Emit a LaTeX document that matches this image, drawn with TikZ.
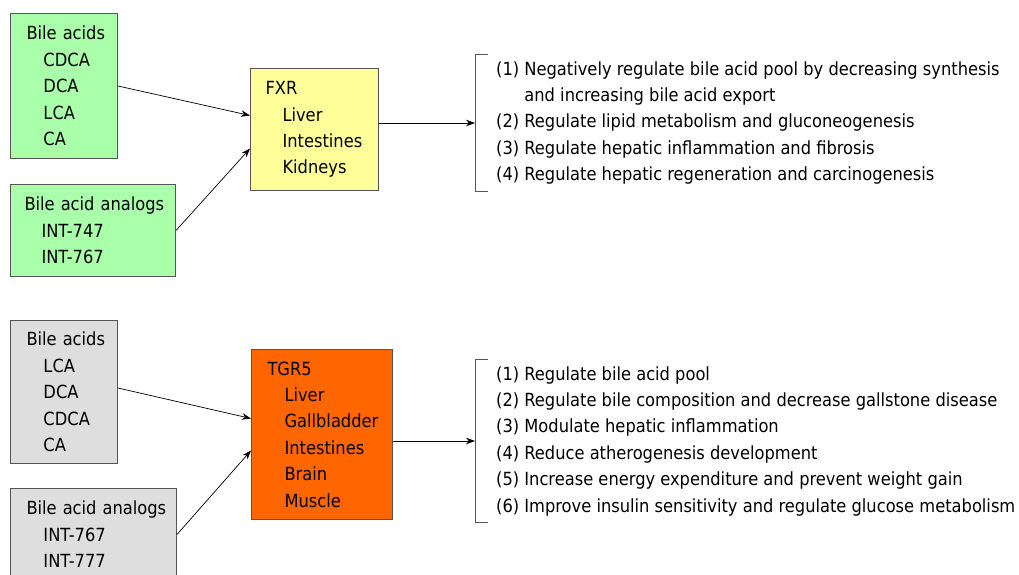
\documentclass[tikz,border=0pt]{standalone}
\usepackage{fontspec}
\setmainfont{DejaVu Sans Condensed}
\usepackage{xcolor}
\usepackage{tikz}
\usetikzlibrary{arrows.meta,positioning}

\definecolor{acidgreen}{RGB}{170,255,170}
\definecolor{fxryellow}{RGB}{255,255,153}
\definecolor{tgrorange}{RGB}{255,102,0}
\definecolor{acidgray}{RGB}{221,222,221}
\definecolor{boxline}{RGB}{85,85,85}

\newcommand{\ind}{\hspace*{17pt}}
\hyphenpenalty=10000
\exhyphenpenalty=10000

\begin{document}
\begin{tikzpicture}[x=1pt, y=-1pt, font=\fontsize{18.1}{26.4}\selectfont,
    srcbox/.style={draw=boxline, line width=1pt, anchor=north west, align=left, inner xsep=15pt, inner ysep=0pt},
    fxarrow/.style={-{Stealth[length=9pt,width=6.5pt]}, line width=0.7pt},
    effects/.style={anchor=west, align=left, inner xsep=21pt, inner ysep=0pt}]
    \useasboundingbox (0,0) rectangle (1019,574);

    % FXR: ligands, receptor and its effects
    \node[srcbox, fill=acidgreen, minimum height=145pt, inner xsep=16pt, text width=75pt] (fxacids) at (10,13) {Bile~acids\\\ind CDCA\\\ind DCA\\\ind LCA\\\ind CA};
    \node[srcbox, fill=acidgreen, minimum height=92pt, inner xsep=14pt, text width=137pt, below=25pt of fxacids.south west, anchor=north west] (fxanalogs) {Bile~acid~analogs\\\ind INT-747\\\ind INT-767};
    \node[srcbox, fill=fxryellow, text width=98pt, minimum height=122pt] (fxr) at (250,68) {FXR\\\ind Liver\\\ind Intestines\\\ind Kidneys};
    \node[effects, minimum height=136pt] (fxeffects) at (475,123) {(1) Negatively regulate bile acid pool by decreasing synthesis\\\phantom{(1)}\ and increasing bile acid export\\(2) Regulate lipid metabolism and gluconeogenesis\\(3) Regulate hepatic inflammation and fibrosis\\(4) Regulate hepatic regeneration and carcinogenesis};

    \draw[fxarrow] (fxacids.east) -- ([yshift=14pt]fxr.west);
    \draw[fxarrow] (fxanalogs.east) -- ([yshift=-19pt]fxr.west);
    \draw[fxarrow] (fxr.east |- fxeffects.west) -- (fxeffects.west);
    \draw[boxline, line width=1pt] ([xshift=13pt]fxeffects.north west) -| (fxeffects.south west) -- ++(13,0);

    % TGR5: ligands, receptor and its effects
    \node[srcbox, fill=acidgray, minimum height=143pt, inner xsep=16pt, text width=75pt] (tgacids) at (10,320) {Bile~acids\\\ind LCA\\\ind DCA\\\ind CDCA\\\ind CA};
    \node[srcbox, fill=acidgray, minimum height=92pt, inner xsep=16pt, text width=134pt, below=24pt of tgacids.south west, anchor=north west] (tganalogs) {Bile~acid~analogs\\\ind INT-767\\\ind INT-777};
    \node[srcbox, fill=tgrorange, minimum height=170pt, inner xsep=16pt, text width=109pt] (tgr) at (251,349) {TGR5\\\ind Liver\\\ind Gallbladder\\\ind Intestines\\\ind Brain\\\ind Muscle};
    \node[effects, minimum height=162pt] (tgeffects) at (475,441) {(1) Regulate bile acid pool\\(2) Regulate bile composition and decrease gallstone disease\\(3) Modulate hepatic inflammation\\(4) Reduce atherogenesis development\\(5) Increase energy expenditure and prevent weight gain\\(6) Improve insulin sensitivity and regulate glucose metabolism};

    \draw[fxarrow] ([yshift=4pt]tgacids.east) -- ([yshift=16pt]tgr.west);
    \draw[fxarrow] (tganalogs.east) -- ([yshift=-16pt]tgr.west);
    \draw[fxarrow] (tgr.east |- tgeffects.west) -- (tgeffects.west);
    \draw[boxline, line width=1pt] ([xshift=13pt]tgeffects.north west) -| (tgeffects.south west) -- ++(13,0);
\end{tikzpicture}
\end{document}
